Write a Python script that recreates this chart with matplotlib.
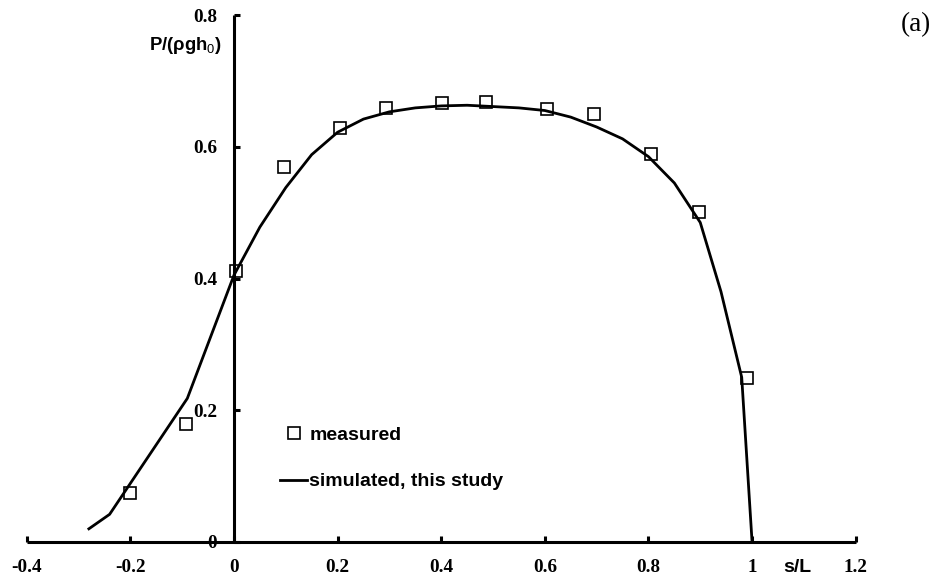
import matplotlib
matplotlib.use("Agg")
import matplotlib.pyplot as plt
from matplotlib.lines import Line2D

# Measured pressure distribution along the slope
meas_s = [-0.20, -0.093, 0.003, 0.096, 0.204, 0.294, 0.402, 0.487, 0.604, 0.694, 0.805, 0.898, 0.990]
meas_p = [0.074, 0.179, 0.412, 0.569, 0.628, 0.659, 0.666, 0.668, 0.658, 0.649, 0.589, 0.501, 0.249]

# Simulated pressure distribution
sim_s = [-0.28, -0.24, -0.09, 0.0, 0.05, 0.10, 0.15, 0.20, 0.25, 0.30, 0.35, 0.40, 0.45,
         0.50, 0.55, 0.60, 0.65, 0.70, 0.75, 0.80, 0.85, 0.90, 0.94, 0.98, 1.0]
sim_p = [0.020, 0.042, 0.218, 0.405, 0.478, 0.538, 0.588, 0.622, 0.642, 0.653, 0.659, 0.662, 0.663,
         0.661, 0.659, 0.655, 0.645, 0.630, 0.612, 0.585, 0.545, 0.485, 0.380, 0.250, 0.0]

xticks = [-0.4, -0.2, 0.0, 0.2, 0.4, 0.6, 0.8, 1.0, 1.2]
xtick_labels = ["-0.4", "-0.2", "0", "0.2", "0.4", "0.6", "0.8", "1", "1.2"]
yticks = [0.0, 0.2, 0.4, 0.6, 0.8]
ytick_labels = ["0", "0.2", "0.4", "0.6", "0.8"]

plt.rcParams["mathtext.fontset"] = "custom"
plt.rcParams["mathtext.rm"] = "Liberation Sans"
plt.rcParams["mathtext.it"] = "Liberation Sans"

W, H = 938, 581
fig = plt.figure(figsize=(W / 100, H / 100), dpi=100)
ax = fig.add_axes([26.7 / W, 1 - 542 / H, (855.7 - 26.7) / W, (542 - 15) / H])

ax.set_xlim(-0.4, 1.2)
ax.set_ylim(0, 0.8)

ax.plot(sim_s, sim_p, color="black", lw=2.0, solid_joinstyle="round", zorder=3)
ax.plot(meas_s, meas_p, ls="none", marker="s", ms=8.6, mfc="none", mec="black",
        mew=1.2, zorder=4)

# Cross-shaped axes through the origin
for side in ("top", "right"):
    ax.spines[side].set_visible(False)
ax.spines["left"].set_position(("data", 0))
ax.spines["bottom"].set_position(("data", 0))
for side in ("left", "bottom"):
    ax.spines[side].set_linewidth(2.2)
    ax.spines[side].set_capstyle("butt")

tick_font = dict(family="Liberation Serif", weight="bold", size=13.8)
ax.set_xticks(xticks)
ax.set_xticklabels(xtick_labels, fontdict=tick_font)
ax.set_yticks(yticks)
ax.set_yticklabels(ytick_labels, fontdict=tick_font)
ax.tick_params(axis="x", direction="in", length=4, width=2.2, pad=12)
ax.tick_params(axis="y", direction="in", length=4, width=2.2, pad=12)

fig.text(222 / W, 1 - 46 / H, r"P/(ρgh$_0$)", ha="right", va="center",
         family="Liberation Sans", weight="bold", fontsize=13.3)
fig.text(797 / W, 1 - 568 / H, "s/L", ha="center", va="center",
         family="Liberation Sans", weight="bold", fontsize=14)
fig.text(916 / W, 1 - 25 / H, "(a)", ha="center", va="center",
         family="Liberation Serif", fontsize=19.5)

handles = [
    Line2D([], [], ls="none", marker="s", ms=8.6, mfc="none", mec="black", mew=1.2),
    Line2D([], [], color="black", lw=2.0),
]
leg = ax.legend(handles, ["measured", "simulated, this study"], loc="upper left",
                bbox_to_anchor=(280 / W, 1 - 426 / H), bbox_transform=fig.transFigure,
                frameon=False, borderpad=0, borderaxespad=0, handlelength=1.39,
                handletextpad=0.12, labelspacing=1.5,
                prop=dict(family="Liberation Sans", weight="bold", size=14))

fig.savefig("out.png", dpi=100, facecolor="white")
